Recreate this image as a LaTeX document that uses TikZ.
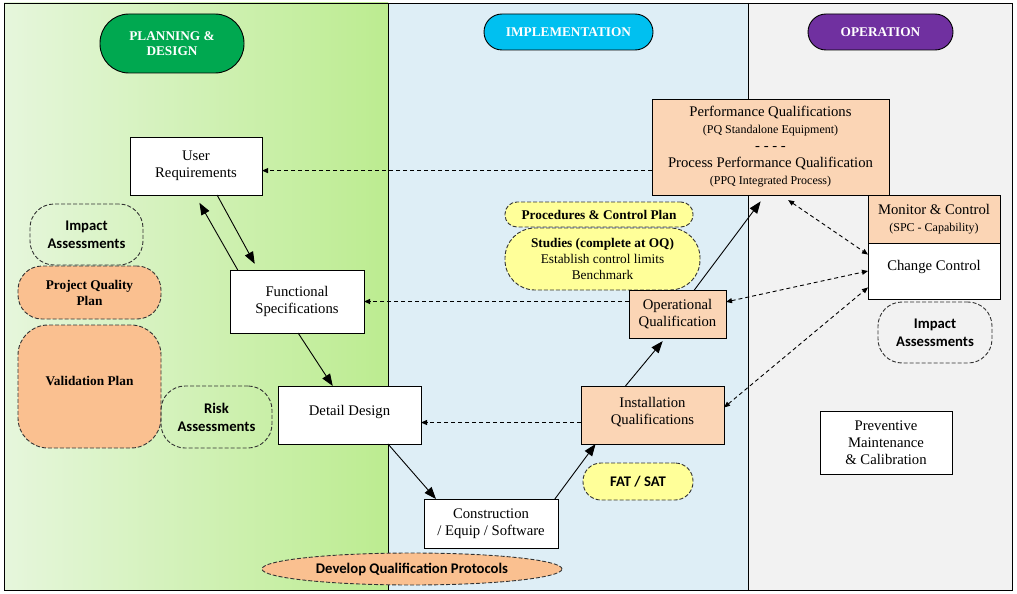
\documentclass[tikz,border=0pt]{standalone}
\usepackage{fontspec}
\setmainfont{Liberation Serif}
\newfontfamily\calibri{Carlito}
\usetikzlibrary{arrows.meta,shapes.geometric}
\definecolor{pdgreen}{RGB}{0,168,80}
\definecolor{imcyan}{RGB}{0,192,240}
\definecolor{oppurple}{RGB}{112,48,160}
\definecolor{peach}{RGB}{251,213,181}
\definecolor{peachdk}{RGB}{250,192,144}
\definecolor{lemon}{RGB}{255,255,153}
\definecolor{skybg}{RGB}{222,238,246}
\definecolor{greybg}{RGB}{242,242,242}
\definecolor{greenlt}{RGB}{230,246,220}
\definecolor{greendk}{RGB}{188,236,144}
\newcommand\smallline{\fontsize{12}{16}\selectfont}

\begin{document}
\begin{tikzpicture}[x=1pt,y=-1pt,inner sep=0pt,outer sep=0pt,line width=0.9pt,
font=\fontsize{14.7}{17}\selectfont,
phase/.style={draw,text=white,align=center,font=\fontsize{13.3}{15}\selectfont\bfseries},
docbox/.style={draw,rectangle,fill=white,align=center},
qualbox/.style={docbox,fill=peach},
notebox/.style={draw=black!80,dash pattern=on 4pt off 2pt,align=center},
note/.style={notebox,font=\calibri\fontsize{14.7}{18}\selectfont\bfseries},
serifnote/.style={notebox,font=\fontsize{13.3}{16}\selectfont\bfseries},
flow/.style={>={Triangle[length=12pt,width=9pt]}},
link/.style={dash pattern=on 4pt off 3pt,>={Triangle[length=6pt,width=5pt]}}]
\useasboundingbox (0,0) rectangle (1017,594);

% phase panels
\shade[left color=greenlt,right color=greendk] (4,3) rectangle (388,590);
\fill[skybg] (388,3) rectangle (748,590);
\fill[greybg] (748,3) rectangle (1012,590);
\draw (4,3) rectangle (1012,590);
\draw (388,3) -- (388,590);
\draw (748,3) -- (748,590);

\draw (172,43.5) node[phase,fill=pdgreen,rounded corners=29pt,minimum width=144pt,minimum height=59pt] (plan) {PLANNING \&\\DESIGN};
\draw (568.5,32) node[phase,fill=imcyan,rounded corners=18pt,minimum width=169pt,minimum height=36pt] (impl) {IMPLEMENTATION};
\draw (880.5,32) node[phase,fill=oppurple,rounded corners=18pt,minimum width=145pt,minimum height=36pt] (oper) {OPERATION};

% side notes
\draw (86.5,234.5) node[note,rounded corners=24pt,minimum width=113pt,minimum height=61pt] (ia1) {Impact\\Assessments};
\draw (89.5,292.5) node[serifnote,fill=peachdk,rounded corners=24pt,minimum width=143pt,minimum height=53pt] (pqp) {Project Quality\\Plan};
\draw (89.5,386.5) node[serifnote,fill=peachdk,rounded corners=30pt,minimum width=143pt,minimum height=123pt,text depth=12pt] (vp) {Validation Plan};
\draw (216.5,417) node[note,rounded corners=24pt,minimum width=111pt,minimum height=62pt] (ra) {Risk\\Assessments};
\draw (599,214.5) node[serifnote,fill=lemon,rounded corners=12pt,minimum width=188pt,minimum height=25pt] (pcp) {Procedures \& Control Plan};
\draw (602.5,259) node[notebox,fill=lemon,rounded corners=30pt,minimum width=195pt,minimum height=62pt,font=\fontsize{13.3}{16}\selectfont] (st) {\textbf{Studies (complete at OQ)}\\Establish control limits\\Benchmark};
\draw (638,481.5) node[note,fill=lemon,rounded corners=18pt,minimum width=110pt,minimum height=37pt] (fat) {FAT / SAT};
\draw (412,569) node[note,fill=peachdk,ellipse,minimum width=300pt,minimum height=32pt] (dqp) {Develop Qualification Protocols};
\draw (935,332.5) node[note,rounded corners=24pt,minimum width=114pt,minimum height=61pt] (ia2) {Impact\\Assessments};

% V boxes
\draw (196,166) node[docbox,minimum width=132pt,minimum height=58pt] (ur) {User\\Requirements};
\draw (297,301.5) node[docbox,minimum width=134pt,minimum height=63pt] (fs) {Functional\\Specifications};
\draw (349.5,415) node[docbox,minimum width=143pt,minimum height=58pt,text depth=10pt] (dd) {Detail Design};
\draw (491,523.5) node[docbox,minimum width=134pt,minimum height=49pt] (con) {Construction\\ / Equip / Software};
\draw (652.5,415) node[qualbox,minimum width=143pt,minimum height=58pt,text depth=8pt] (iq) {Installation\\Qualifications};
\draw (677.5,314) node[qualbox,minimum width=97pt,minimum height=48pt] (oq) {Operational\\Qualification};
\draw (770.5,147) node[qualbox,minimum width=237pt,minimum height=96pt] (pq) {Performance Qualifications\\{\smallline(PQ Standalone Equipment)}\\- - - -\\Process Performance Qualification\\{\smallline(PPQ Integrated Process)}};
\draw (934,219) node[qualbox,minimum width=132pt,minimum height=48pt] (mc) {Monitor \& Control\\{\smallline(SPC - Capability)}};
\draw (934,271) node[docbox,minimum width=132pt,minimum height=56pt,text depth=12pt] (cc) {Change Control};
\draw (886,442.5) node[docbox,minimum width=132pt,minimum height=63pt] (pm) {Preventive\\Maintenance\\\& Calibration};

\draw[flow,->,shorten >=7pt] (ur.-54) -- (fs.141);
\draw[flow,->,shorten >=9pt] (fs.152) -- (ur.-92);
\draw[flow,->] (fs.-88) -- (dd.120);
\draw[flow,->] (dd.-37) -- (con.156);
\draw[flow,->] (con.21) -- (iq.-153);
\draw[flow,->,shorten >=4pt] (iq.133) -- (oq.-117);
\draw[flow,->,shorten >=8pt] (oq.55) -- (pq.-96);

\draw[link,->] (pq.west |- ur.-4) -- (ur.-4);
\draw[link,->] (oq.west |- fs.east) -- (fs.east);
\draw[link,->] (iq.west |- dd.-6) -- (dd.-6);
\draw[link,<->,shorten <=9pt] (pq.-78) -- (cc.166);
\draw[link,<->] (oq.14) -- (cc.180);
\draw[link,<->] (iq.6) -- (cc.-166);
\end{tikzpicture}
\end{document}
